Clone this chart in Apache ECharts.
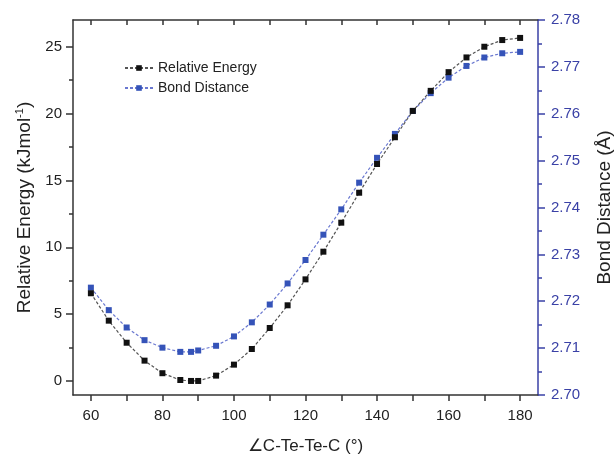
<!DOCTYPE html>
<html>
<head>
<meta charset="utf-8">
<script src="https://cdn.jsdelivr.net/npm/echarts@6/dist/echarts.min.js"></script>
<style>html,body{margin:0;padding:0;background:#fff}#c{width:614px;height:458px}</style>
</head>
<body>
<div id="c"></div>
<script>
const angles = [60,65,70,75,80,85,88,90,95,100,105,110,115,120,125,130,135,140,145,150,155,160,165,170,175,180];
const relativeEnergy = [6.56,4.51,2.86,1.52,0.58,0.07,0.0,0.0,0.40,1.22,2.39,3.96,5.66,7.60,9.67,11.84,14.08,16.23,18.23,20.2,21.7,23.1,24.2,25.0,25.5,25.66];
const bondDistance = [2.7229,2.7181,2.7144,2.7117,2.7101,2.7092,2.7092,2.7095,2.7105,2.7125,2.7155,2.7193,2.7238,2.7288,2.7342,2.7396,2.7453,2.7506,2.7557,2.7606,2.7644,2.7677,2.7702,2.7720,2.7729,2.7732];
const xTicks = [60,70,80,90,100,110,120,130,140,150,160,170,180];
const xLabels = [60,80,100,120,140,160,180];
const yLeftTicks = [0,5,10,15,20,25];
const yLeftMinor = [2.5,7.5,12.5,17.5,22.5];
const seriesNames = ['Relative Energy','Bond Distance'];

const FONT = 'Liberation Sans, Arial, sans-serif';
const BLUE_AXIS = '#3a41a6';
const chart = echarts.init(document.getElementById('c'), null, {renderer:'canvas'});
const xBase = {
  type:'value', min:55, max:185,
  splitLine:{show:false},
  axisLine:{show:true, onZero:false, lineStyle:{color:'#333', width:1.5}}
};
chart.setOption({
  backgroundColor:'#ffffff',
  animation:false,
  grid:{left:73, right:76, top:20, bottom:63, containLabel:false, outerBoundsMode:'none'},
  legend:{
    data:seriesNames, orient:'vertical', left:119, top:55,
    itemWidth:28, itemHeight:7, itemGap:4,
    textStyle:{fontFamily:FONT, fontSize:14, color:'#222', lineHeight:16}
  },
  xAxis:[
    Object.assign({}, xBase, {
      position:'bottom',
      name:'∠C-Te-Te-C (°)', nameLocation:'middle', nameGap:43,
      nameTextStyle:{fontFamily:FONT, fontSize:17, color:'#222'},
      axisTick:{show:true, inside:false, length:6, customValues:xTicks, lineStyle:{color:'#333', width:1.5}},
      axisLabel:{customValues:xLabels, fontFamily:FONT, fontSize:15, color:'#222', margin:13}
    }),
    Object.assign({}, xBase, {
      position:'top',
      axisTick:{show:true, inside:true, length:5, customValues:xTicks, lineStyle:{color:'#333', width:1.5}},
      axisLabel:{show:false}
    })
  ],
  yAxis:[
    {
      type:'value', position:'left', min:-1.05, max:27,
      splitLine:{show:false},
      axisLine:{show:true, onZero:false, lineStyle:{color:'#333', width:1.5}},
      axisTick:{show:true, length:7, customValues:yLeftTicks, lineStyle:{color:'#333', width:1.5}},
      axisLabel:{customValues:yLeftTicks, fontFamily:FONT, fontSize:15, color:'#222', margin:11},
      name:'Relative Energy (kJmol{sup|-1})', nameLocation:'middle', nameRotate:90, nameGap:37,
      nameTextStyle:{fontFamily:FONT, fontSize:19, color:'#222',
        rich:{sup:{fontFamily:FONT, fontSize:11, color:'#222', padding:[0,0,10,0]}}}
    },
    {
      type:'value', position:'right', min:2.70, max:2.78, interval:0.01,
      splitLine:{show:false},
      axisLine:{show:true, onZero:false, lineStyle:{color:BLUE_AXIS, width:1.5}},
      axisTick:{show:true, length:7, lineStyle:{color:BLUE_AXIS, width:1.5}},
      minorTick:{show:true, splitNumber:2, length:4, lineStyle:{color:BLUE_AXIS, width:1.5}},
      axisLabel:{fontFamily:FONT, fontSize:15, color:BLUE_AXIS, margin:13, formatter:v=>v.toFixed(2)},
      name:'Bond Distance (Å)', nameLocation:'middle', nameRotate:90, nameGap:57,
      nameTextStyle:{fontFamily:FONT, fontSize:19, color:'#222'}
    },
    {
      type:'value', position:'left', min:-1.05, max:27,
      splitLine:{show:false},
      axisLine:{show:false},
      axisTick:{show:true, length:4, customValues:yLeftMinor, lineStyle:{color:'#333', width:1.5}},
      axisLabel:{show:false}
    }
  ],
  series:[
    {
      name:seriesNames[0], type:'line', xAxisIndex:0, yAxisIndex:0,
      data:angles.map((a,i)=>[a, relativeEnergy[i]]),
      symbol:'rect', symbolSize:6,
      itemStyle:{color:'#111'},
      lineStyle:{color:'#555', width:1.2, type:[3,2]},
      z:3
    },
    {
      name:seriesNames[1], type:'line', xAxisIndex:0, yAxisIndex:1,
      data:angles.map((a,i)=>[a, bondDistance[i]]),
      symbol:'rect', symbolSize:6,
      itemStyle:{color:'#3553b8'},
      lineStyle:{color:'#6a78d0', width:1.2, type:[3,2]},
      z:2
    }
  ]
});
</script>
</body>
</html>
